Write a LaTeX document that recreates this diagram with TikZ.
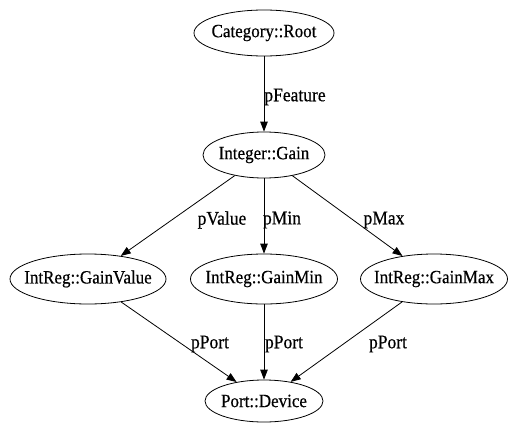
\documentclass[tikz,border=0pt]{standalone}
\usepackage{fontspec}
\setmainfont{Liberation Serif}
\newfontfamily\gvfont{Liberation Serif}[FakeBold=0.5]
\usetikzlibrary{shapes.geometric,arrows.meta}

% slightly tall lettering, as in the rendered graph
\newcommand{\tallword}[1]{\scalebox{1}[1.1]{#1}}

\tikzset{
  obj/.style={draw=black, line width=0.8pt, ellipse, inner sep=0pt},
  objtext/.style={font=\gvfont\fontsize{17}{20}\selectfont},
  link/.style={draw=black, line width=0.8pt, -{Triangle[length=10pt,width=7.5pt]}},
  role/.style={font=\gvfont\fontsize{17.5}{20}\selectfont, inner sep=0pt}
}

\begin{document}
\begin{tikzpicture}[x=1pt, y=-1pt]
  \useasboundingbox[fill=white] (0,0) rectangle (510,425);

  % class nodes
  \node[obj, minimum width=140pt, minimum height=46pt,
        label={[objtext]center:\tallword{Category::Root}}] (root) at (264,33) {};
  \node[obj, minimum width=122pt, minimum height=46pt,
        label={[objtext]center:\tallword{Integer::Gain}}] (gain) at (264,155) {};
  \node[obj, minimum width=156pt, minimum height=50pt,
        label={[objtext]center:\tallword{IntReg::GainValue}}] (gval) at (88,279) {};
  \node[obj, minimum width=147pt, minimum height=50pt,
        label={[objtext]center:\tallword{IntReg::GainMin}}] (gmin) at (264,279) {};
  \node[obj, minimum width=147pt, minimum height=50pt,
        label={[objtext]center:\tallword{IntReg::GainMax}}] (gmax) at (434,279) {};
  \node[obj, minimum width=118pt, minimum height=42pt,
        label={[objtext]center:\tallword{Port::Device}}] (port) at (264,401) {};

  % references between them
  \draw[link] (root) -- (gain);
  \draw[link] (gain) -- (gval);
  \draw[link] (gain) -- (gmin);
  \draw[link] (gain) -- (gmax);
  \draw[link] (gval) -- (port);
  \draw[link] (gmin) -- (port);
  \draw[link] (gmax) -- (port);

  % reference names
  \node[role] (lfeat) at (295,97) {\tallword{pFeature}};
  \node[role] (lval)  at (222,220) {\tallword{pValue}};
  \node[role] (lmin)  at (282,220) {\tallword{pMin}};
  \node[role] (lmax)  at (384,220) {\tallword{pMax}};
  \node[role] (lp1)   at (210,344) {\tallword{pPort}};
  \node[role] (lp2)   at (284,344) {\tallword{pPort}};
  \node[role] (lp3)   at (388,344) {\tallword{pPort}};
\end{tikzpicture}
\end{document}
